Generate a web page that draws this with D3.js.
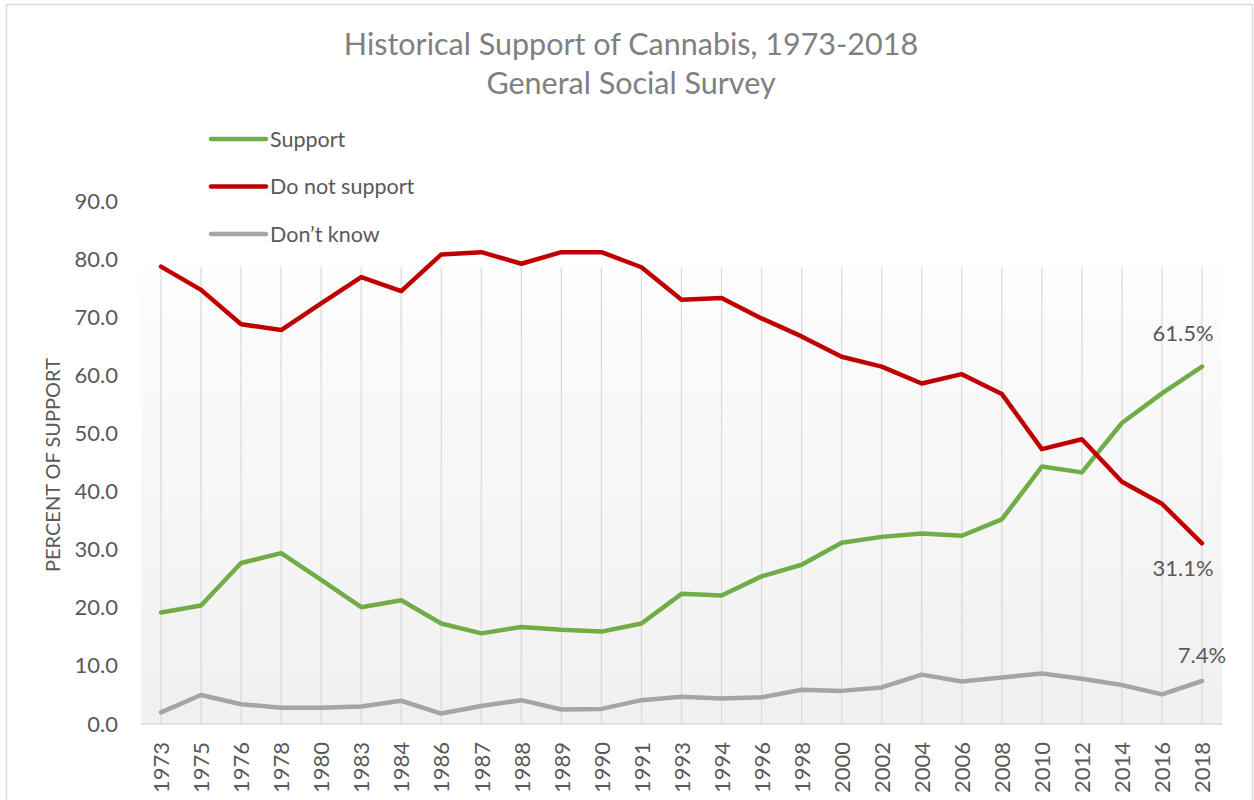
<!DOCTYPE html>
<html>
<head>
<meta charset="utf-8">
<script src="https://cdn.jsdelivr.net/npm/d3@7/dist/d3.min.js"></script>
<style>
  html, body { margin: 0; padding: 0; background: #ffffff; }
  svg { display: block; }
  text { font-family: Lato, "Noto Sans", sans-serif; }
</style>
</head>
<body>
<svg id="chart" width="1254" height="800"></svg>
<script>
// General Social Survey: should marijuana be made legal? (percent)
const years = ["1973","1975","1976","1978","1980","1983","1984","1986","1987","1988","1989","1990","1991",
  "1993","1994","1996","1998","2000","2002","2004","2006","2008","2010","2012","2014","2016","2018"];
const support = [19.2,20.4,27.7,29.4,24.8,20.1,21.3,17.3,15.6,16.7,16.2,15.9,17.3,
  22.4,22.1,25.4,27.4,31.2,32.2,32.8,32.4,35.2,44.3,43.3,51.8,56.9,61.5];
const doNotSupport = [78.7,74.7,68.8,67.8,72.4,76.9,74.5,80.8,81.2,79.2,81.2,81.2,78.6,
  73.0,73.3,69.8,66.7,63.2,61.5,58.6,60.2,56.8,47.3,49.0,41.7,37.9,31.1];
const dontKnow = [2.0,5.0,3.4,2.8,2.8,3.0,4.0,1.8,3.1,4.1,2.5,2.6,4.1,
  4.7,4.4,4.6,5.9,5.7,6.3,8.5,7.3,8.0,8.7,7.8,6.7,5.1,7.4];
const yTicks = [0,10,20,30,40,50,60,70,80,90];
const seriesNames = ["Support","Do not support","Don\u2019t know"];
const titleLines = ["Historical Support of Cannabis, 1973-2018","General Social Survey"];
const yAxisTitle = "PERCENT OF SUPPORT";

const series = [
  { name: seriesNames[0], values: support,      color: "#70AD47" },
  { name: seriesNames[1], values: doNotSupport, color: "#C00000" },
  { name: seriesNames[2], values: dontKnow,     color: "#A5A5A5" }
];

const svg = d3.select("#chart");
const W = 1254, H = 800;
const plot = { left: 141, right: 1222, top: 267, bottom: 724 };
const textColor = "#595959";

// chart frame
svg.append("rect")
  .attr("x", 6.5).attr("y", 4.5).attr("width", W - 8).attr("height", H + 10)
  .attr("fill", "#ffffff").attr("stroke", "#d9d9d9").attr("stroke-width", 1.5);

const x = d3.scalePoint().domain(years).range([plot.left, plot.right]).padding(0.5);
const y = d3.scaleLinear().domain([0, 90]).range([724, 201]);

// plot area with a soft vertical gradient
const defs = svg.append("defs");
const grad = defs.append("linearGradient").attr("id", "plotFill")
  .attr("x1", 0).attr("y1", 0).attr("x2", 0).attr("y2", 1);
grad.append("stop").attr("offset", "0%").attr("stop-color", "#fdfdfd");
grad.append("stop").attr("offset", "100%").attr("stop-color", "#f0f0f0");

svg.append("rect")
  .attr("x", plot.left).attr("y", plot.top)
  .attr("width", plot.right - plot.left).attr("height", plot.bottom - plot.top)
  .attr("fill", "url(#plotFill)");

// vertical gridlines at each survey year
svg.append("g").selectAll("line").data(years).join("line")
  .attr("x1", d => x(d)).attr("x2", d => x(d))
  .attr("y1", plot.top).attr("y2", plot.bottom)
  .attr("stroke", "#d9d9d9").attr("stroke-width", 1.2);

// category axis line
svg.append("line")
  .attr("x1", plot.left).attr("x2", plot.right)
  .attr("y1", y(0)).attr("y2", y(0))
  .attr("stroke", "#d9d9d9").attr("stroke-width", 1.5);

// y axis labels
const yAxis = d3.axisLeft(y).tickValues(yTicks).tickFormat(d3.format(".1f")).tickSize(0).tickPadding(0);
const yG = svg.append("g").attr("transform", "translate(118,0)").call(yAxis);
yG.select(".domain").remove();
yG.selectAll("text")
  .attr("fill", textColor).style("font-size", "22px").style("font-family", "Lato, sans-serif");

// x axis labels, rotated
const xAxis = d3.axisBottom(x).tickSize(0).tickPadding(0);
const xG = svg.append("g").attr("transform", `translate(0,${plot.bottom})`).call(xAxis);
xG.select(".domain").remove();
xG.selectAll("text")
  .attr("fill", textColor).style("font-size", "22px").style("font-family", "Lato, sans-serif")
  .attr("text-anchor", "end")
  .attr("transform", "translate(0,18) rotate(-90)")
  .attr("x", 0).attr("y", 0).attr("dy", "0.35em");

// y axis title
svg.append("text")
  .attr("transform", "translate(53,465) rotate(-90)")
  .attr("text-anchor", "middle").attr("dy", "0.35em")
  .attr("fill", textColor).style("font-size", "20px")
  .text(yAxisTitle);

// series lines
const line = d3.line().x((d, i) => x(years[i])).y(d => y(d));
svg.append("g").selectAll("path").data(series).join("path")
  .attr("d", d => line(d.values))
  .attr("fill", "none").attr("stroke", d => d.color)
  .attr("stroke-width", 4.5).attr("stroke-linejoin", "round").attr("stroke-linecap", "round");

// end-of-series value labels
const last = years.length - 1;
const endLabels = [
  { v: support[last],      dx: -19, dy: -26 },
  { v: doNotSupport[last], dx: -19, dy: 33 },
  { v: dontKnow[last],     dx: 0,   dy: -18 }
];
svg.append("g").selectAll("text").data(endLabels).join("text")
  .attr("x", d => x(years[last]) + d.dx)
  .attr("y", d => y(d.v) + d.dy)
  .attr("text-anchor", "middle")
  .attr("fill", textColor).style("font-size", "22px")
  .text(d => d3.format(".1f")(d.v) + "%");

// title
svg.append("g").selectAll("text").data(titleLines).join("text")
  .attr("x", 631).attr("y", (d, i) => 55 + i * 39)
  .attr("text-anchor", "middle")
  .attr("fill", "#808080").style("font-size", "30.5px")
  .text(d => d);

// legend
const leg = svg.append("g").selectAll("g").data(series).join("g")
  .attr("transform", (d, i) => `translate(211,${139 + i * 47.5})`);
leg.append("line").attr("x1", 0).attr("x2", 55).attr("y1", 0).attr("y2", 0)
  .attr("stroke", d => d.color).attr("stroke-width", 4.5).attr("stroke-linecap", "round");
leg.append("text").attr("x", 59).attr("dy", "0.35em")
  .attr("fill", textColor).style("font-size", "21.5px")
  .text(d => d.name);
</script>
</body>
</html>
